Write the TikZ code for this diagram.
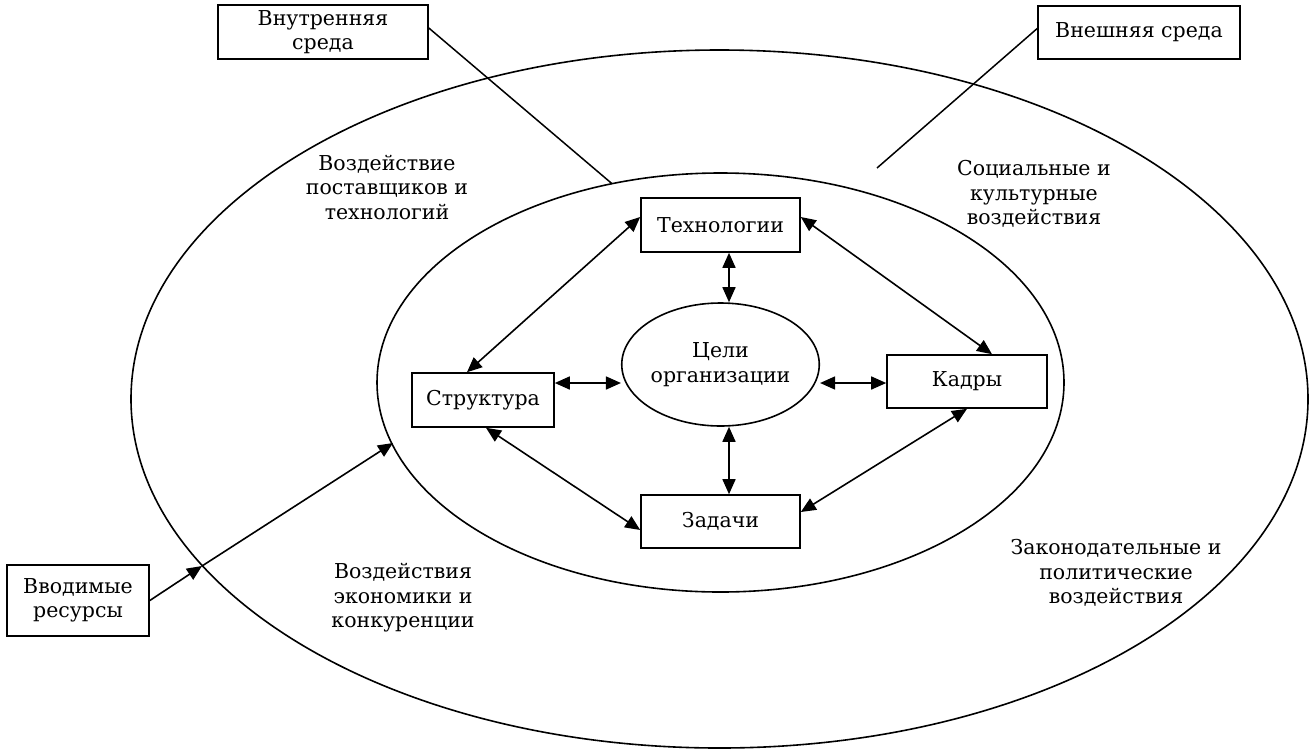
\documentclass[tikz,border=0pt]{standalone}
\usepackage{fontspec}
\setmainfont{DejaVu Serif}
\usetikzlibrary{arrows.meta,shapes.geometric}
\begin{document}
\begin{tikzpicture}[x=1pt,y=-1pt,
  txt/.style={font=\fontsize{20.5}{24.5}\selectfont},
  box/.style={txt,draw,line width=1.6pt,inner sep=0pt,align=center},
  lbl/.style={txt,align=center,inner sep=0pt},
  ring/.style={draw,line width=1.6pt,ellipse,inner sep=0pt},
  dbl/.style={line width=1.6pt,{Triangle[length=15pt,width=13pt]}-{Triangle[length=15pt,width=13pt]}},
  one/.style={line width=1.6pt,-{Triangle[length=15pt,width=13pt]}},
  lead/.style={line width=1.5pt}]
\useasboundingbox (0,0) rectangle (1313,750);
% rings
\node[ring,minimum width=1177pt,minimum height=698pt] (O) at (719.5,399) {};
\node[ring,minimum width=687pt,minimum height=419pt] (I) at (720.5,382.5) {};
% inner nodes
\node[box,minimum width=159pt,minimum height=54pt] (T) at (720.5,225) {Технологии};
\node[box,minimum width=159pt,minimum height=53pt] (Z) at (720.5,521.5) {Задачи};
\node[box,minimum width=142pt,minimum height=54pt] (S) at (483,400) {Структура};
\node[box,minimum width=160pt,minimum height=53pt] (K) at (967,381.5) {Кадры};
\node[txt,draw,line width=1.6pt,ellipse,inner sep=0pt,align=center,minimum width=195pt,minimum height=123pt] (G) at (720.5,364.5) {Цели\\организации};
% outer boxes
\node[box,minimum width=210pt,minimum height=54pt] (IN) at (323,32) {Внутренняя\\среда};
\node[box,minimum width=202pt,minimum height=53pt] (EX) at (1139,32.5) {Внешняя среда};
\node[box,minimum width=142pt,minimum height=71pt] (R) at (78,600.5) {Вводимые\\ресурсы};
% labels
\node[lbl] (L1) at (387,187) {Воздействие\\поставщиков и\\технологий};
\node[lbl] (L2) at (1034,194) {Социальные и\\культурные\\воздействия};
\node[lbl] (L3) at (403,598) {Воздействия\\экономики и\\конкуренции};
\node[lbl] (L4) at (1116,573) {Законодательные и\\политические\\воздействия};
% helper coordinates
\coordinate (row) at (0,383);
\coordinate (inTop) at (612,183.7);
\coordinate (exEnd) at (877,168);
\coordinate (rMid) at (202,566);
\coordinate (rIn) at (393,443);
% connectors
\draw[dbl] ([xshift=8.5pt]T.south) -- ([xshift=8.5pt]G.north);
\draw[dbl] ([xshift=8.5pt]G.south) -- ([xshift=8.5pt]Z.north);
\draw[dbl] (S.east |- row) -- (G.west |- row);
\draw[dbl] (G.east |- row) -- (K.west |- row);
\draw[dbl] ([xshift=-16pt]S.north) -- ([yshift=8pt]T.west);
\draw[dbl] ([yshift=8pt]T.east) -- ([xshift=25pt]K.north);
\draw[dbl] ([xshift=3pt]S.south) -- ([yshift=-8.5pt]Z.west);
\draw[dbl] ([yshift=9.5pt]Z.east) -- (K.south);
\draw[lead] ([yshift=4pt]IN.east) -- (inTop);
\draw[lead] ([yshift=4pt]EX.west) -- (exEnd);
\draw[one] (R.east) -- (rMid);
\draw[one] (rMid) -- (rIn);
\end{tikzpicture}
\end{document}
